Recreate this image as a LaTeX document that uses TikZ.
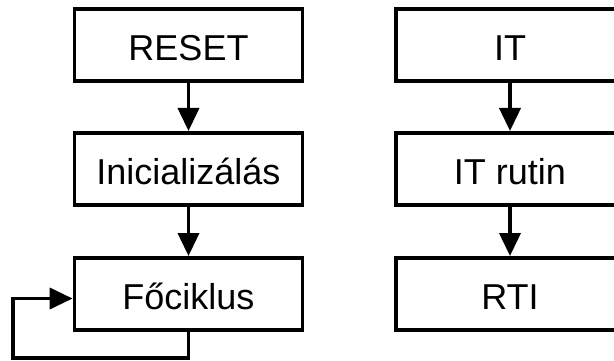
\documentclass[tikz,border=0pt]{standalone}
\usepackage{fontspec}
\setmainfont{Liberation Sans}
\usetikzlibrary{arrows.meta}
\begin{document}
\begin{tikzpicture}[x=1pt,y=-1pt,
  stepbox/.style={draw, line width=3.8pt, minimum width=228pt, minimum height=72pt,
    inner sep=0pt, text height=31.5pt, text depth=0pt,
    font=\fontsize{36}{43}\selectfont},
  arr/.style={line width=3.8pt, -{Triangle[length=23pt,width=21pt]}}]
\useasboundingbox (0,0) rectangle (614,361);
\clip (0,0) rectangle (614,361);
\node[stepbox] (reset) at (188.5,45.2) {RESET};
\node[stepbox] (init) at (188.5,168.9) {Inicializálás};
\node[stepbox] (main) at (188.5,293.9) {Főciklus};
\node[stepbox] (it) at (510,45.2) {IT};
\node[stepbox] (itr) at (510,168.9) {IT rutin};
\node[stepbox] (rti) at (510,293.9) {RTI};
\coordinate (lb) at (13.3,358);
\draw[arr] (reset) -- (init);
\draw[arr] (init) -- (main);
\draw[arr] (it) -- (itr);
\draw[arr] (itr) -- (rti);
\draw[arr] (main.south) |- (lb) |- ([yshift=-4.6pt]main.west);
\end{tikzpicture}
\end{document}
